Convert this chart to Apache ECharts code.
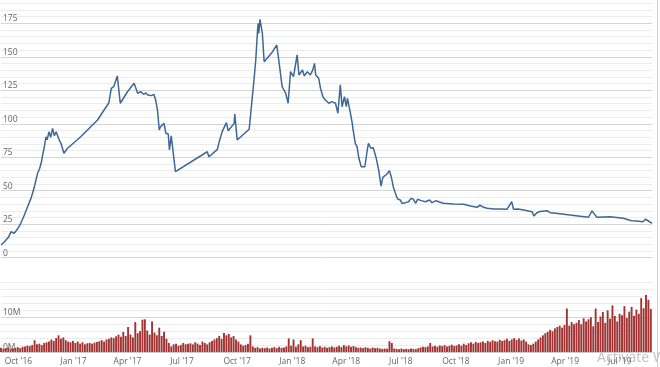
<!DOCTYPE html>
<html>
<head>
<meta charset="utf-8">
<script src="https://cdn.jsdelivr.net/npm/echarts@6/dist/echarts.min.js"></script>
<style>
html,body{margin:0;padding:0;background:#fff;}
#c{width:660px;height:367px;}
</style>
</head>
<body>
<div id="c"></div>
<script>
// ---- data ----
var startDate = '2016-09-02';
var endDay = 1086;
// price: days since startDate, and values
var priceDays = [0,5,12,17,22,27,33,39,44,50,55,61,64,67,69,72,75,77,80,83,86,89,92,95,97,100,102,105,111,133,161,180,184,188,194,199,211,222,225,228,233,238,242,245,248,251,255,258,261,264,266,272,275,279,281,284,291,344,347,361,364,369,376,379,389,390,394,414,416,422,425,428,429,430,432,434,436,439,444,453,460,463,466,469,472,475,479,483,488,494,497,503,506,511,516,520,523,525,530,533,537,541,547,552,558,562,566,569,573,576,578,583,586,587,591,594,597,601,604,607,611,613,617,621,626,630,634,637,644,648,651,655,660,662,666,669,675,680,684,688,692,695,701,708,715,719,726,730,738,755,772,783,794,799,805,811,822,833,836,844,847,852,855,863,874,886,889,894,899,911,916,933,949,966,980,986,989,994,1016,1038,1052,1060,1071,1075,1080,1086];
var priceValues = [9.5,11.5,15,19.4,18.2,21,25.7,31.9,37.6,44.3,51.8,63,66,70.5,75.4,82,90.3,88,94,90,96.6,91,94,92.9,88,85.4,84,78,81.7,90.3,102.8,115.7,126.5,127.7,135.7,115.3,123.9,130.2,131.4,122.7,124,122,123,121.5,122.5,121,122,117.7,110.3,95.3,97.8,100.3,92.9,92.4,80.4,90.9,64.2,79.1,75.4,80.9,86.6,94.1,100.8,94.8,100.3,107.3,87.9,95.9,96.6,132.7,147.6,170,175,167.5,178,178.7,167.5,146.3,148.9,153.8,158.8,148.9,150,127.7,125.2,122.7,115.3,138.9,135.1,151.4,136.4,140.1,135.7,138.9,136.4,140,145.1,136.4,133.9,126.5,120.2,117.7,115.3,116.5,115.3,107.8,129,112.7,120.2,112.7,119,107.8,100.3,96.6,85.4,82.9,74.2,67.9,69.2,67.9,80.4,85.4,81.7,82.1,74.2,65.5,53.5,60,62.5,65,60.5,51.8,45.5,43.8,43.1,40.6,41.1,41.8,44.3,43.6,40.6,43.6,42.6,41.8,43.1,41.1,42.6,41.8,40.6,40.1,39.9,38.6,37.6,39.3,37.6,36.9,36.4,36.4,37.6,36.1,35.6,41.8,36.1,36.4,35.5,34.3,31.1,33.6,34.5,35.1,33.6,32.8,31.9,31,30.2,34.9,33.1,30.2,30.6,29.4,27.6,27.4,26.9,28.7,27.4,25.7];
// volume (millions), one bar every volStepDays days from startDate
var volStepDays = 4;
var volumeValues = [
1.2,0.9,1.1,1.3,0.8,1.0,1.2,1.4,1.1,1.5,
1.6,1.8,1.7,2.0,3.4,2.2,2.4,2.0,2.6,2.8,
3.0,3.6,3.2,4.0,4.8,3.8,4.2,3.4,3.0,2.8,
3.2,2.6,3.0,2.4,2.8,2.2,2.5,2.6,2.4,2.7,
2.9,3.1,3.4,3.0,3.6,3.8,4.2,4.0,4.5,5.0,
4.4,5.8,4.6,7.2,5.0,4.2,8.6,5.4,6.0,9.3,
9.4,6.2,5.0,8.8,5.6,4.8,7.0,4.6,5.8,3.8,
2.6,1.6,2.2,2.4,1.8,2.0,2.6,2.2,2.4,2.5,
2.2,2.8,2.4,2.0,3.0,2.6,2.2,2.8,3.2,3.6,
4.0,4.6,3.8,5.5,4.8,5.2,4.2,4.6,3.6,3.0,
2.2,1.8,2.0,2.4,4.8,1.6,1.2,1.4,1.0,1.2,
1.1,1.3,1.0,1.2,1.4,1.1,1.5,1.2,1.3,1.6,
3.9,1.8,3.6,1.5,2.2,3.4,1.6,1.8,1.4,1.5,
3.9,1.6,1.4,1.7,1.3,1.5,1.2,1.4,1.6,1.3,
1.5,1.8,1.4,2.0,1.6,1.9,1.5,1.7,1.4,1.2,
1.3,1.1,1.4,1.2,1.0,1.3,1.1,1.2,1.0,0.9,
1.0,0.9,3.1,2.6,1.0,0.9,0.8,1.0,0.8,0.9,
0.8,1.0,0.9,0.8,1.1,1.3,1.5,1.4,1.6,2.6,
1.6,1.8,1.5,1.9,1.7,2.0,1.6,1.8,2.1,1.7,
1.9,2.2,1.8,2.4,2.0,2.5,2.8,2.4,2.9,2.6,
2.8,3.0,2.6,3.2,2.9,3.4,3.1,3.0,3.5,3.2,
3.4,3.8,3.2,3.6,4.0,3.5,3.9,3.3,3.6,3.0,
2.2,2.0,2.4,3.0,3.6,4.2,4.8,5.4,5.8,6.4,
6.0,6.8,7.2,7.6,7.0,7.8,12.5,7.6,8.6,8.0,
8.4,9.2,8.0,9.7,8.8,9.4,10.0,7.4,12.5,8.6,
10.2,11.5,8.4,12.0,9.6,13.4,10.4,8.8,11.0,10.6,
13.2,9.8,11.6,13.0,10.4,12.2,11.0,15.5,12.6,16.4,
15.0,12.4];
var xTickDates = ['2016-10-01','2017-01-01','2017-04-01','2017-07-01','2017-10-01','2018-01-01','2018-04-01','2018-07-01','2018-10-01','2019-01-01','2019-04-01','2019-07-01'];
var priceTicks = [0,25,50,75,100,125,150,175];
var volumeTicks = [0,10];
var monthNames = ['Jan','Feb','Mar','Apr','May','Jun','Jul','Aug','Sep','Oct','Nov','Dec'];

// ---- build ----
var DAY = 86400000;
function ts(s){ var p = s.split('-'); return Date.UTC(+p[0], +p[1]-1, +p[2]); }
var t0 = ts(startDate);
var tMax = t0 + endDay*DAY;
var priceData = [];
for (var i = 0; i < Math.min(priceDays.length, priceValues.length); i++) {
  priceData.push([t0 + priceDays[i]*DAY, priceValues[i]]);
}
var volData = [];
for (var j = 0; j < volumeValues.length; j++) {
  volData.push([t0 + j*volStepDays*DAY, volumeValues[j]]);
}
var tickTs = xTickDates.map(ts);
var fontFam = '"Open Sans", "DejaVu Sans", sans-serif';

var chart = echarts.init(document.getElementById('c'), null, {renderer:'canvas'});
chart.setOption({
  animation: false,
  backgroundColor: '#ffffff',
  grid: [
    {left: 0, right: 8, top: 3.2, height: 254.5},
    {left: 0, right: 8, top: 282.5, height: 69.5}
  ],
  xAxis: [
    {type: 'value', gridIndex: 0, min: t0, max: tMax, show: false, splitLine: {show: false}},
    {type: 'value', gridIndex: 1, min: t0, max: tMax,
     axisLine: {show: true, lineStyle: {color: '#cccccc'}},
     axisTick: {show: false},
     splitLine: {show: false},
     axisLabel: {
       customValues: tickTs,
       color: '#666666', fontSize: 8.5, fontFamily: fontFam, margin: 5,
       hideOverlap: false,
       formatter: function (v) {
         var d = new Date(v);
         return monthNames[d.getUTCMonth()] + " '" + String(d.getUTCFullYear()).slice(2);
       }
     }}
  ],
  yAxis: [
    {type: 'value', gridIndex: 0, min: 0, max: 190, interval: 5, position: 'right',
     axisLine: {show: false}, axisTick: {show: false}, axisLabel: {show: false},
     splitLine: {show: true, lineStyle: {color: '#ececec', width: 1}}},
    {type: 'value', gridIndex: 0, min: 0, max: 190, interval: 25, position: 'left',
     axisLine: {show: false}, axisTick: {show: false},
     splitLine: {show: true, showMaxLine: false, lineStyle: {color: '#d4d4d4', width: 1}},
     axisLabel: {inside: true, margin: 2, verticalAlign: 'bottom', color: '#666666',
       fontSize: 8.5, fontFamily: fontFam,
       customValues: priceTicks,
       formatter: function (v) { return String(v); }}},
    {type: 'value', gridIndex: 1, min: 0, max: 20, interval: 2, position: 'right',
     axisLine: {show: false}, axisTick: {show: false}, axisLabel: {show: false},
     splitLine: {show: true, lineStyle: {color: '#ececec', width: 1}}},
    {type: 'value', gridIndex: 1, min: 0, max: 20, interval: 10, position: 'left',
     axisLine: {show: false}, axisTick: {show: false},
     splitLine: {show: true, showMaxLine: false, lineStyle: {color: '#d4d4d4', width: 1}},
     axisLabel: {inside: true, margin: 2, verticalAlign: 'bottom', color: '#666666',
       fontSize: 8.5, fontFamily: fontFam,
       customValues: volumeTicks,
       formatter: function (v) { return v + 'M'; }}}
  ],
  series: [
    {type: 'bar', xAxisIndex: 1, yAxisIndex: 3, data: volData, barWidth: 1.9,
     itemStyle: {color: '#a13333'}, silent: true},
    {type: 'line', xAxisIndex: 0, yAxisIndex: 1, data: priceData, symbol: 'none',
     lineStyle: {color: '#3d6896', width: 1.5}, silent: true}
  ],
  graphic: [
    {type: 'line', shape: {x1: 657.5, y1: 0, x2: 657.5, y2: 367}, style: {stroke: '#c9d0d6', lineWidth: 1}, silent: true},
    {type: 'text', left: 597, top: 351, silent: true,
     style: {text: 'Activate Windows', fill: '#c4c4c4', fontSize: 14, fontFamily: '"Noto Sans", sans-serif'}}
  ]
});
</script>
</body>
</html>
